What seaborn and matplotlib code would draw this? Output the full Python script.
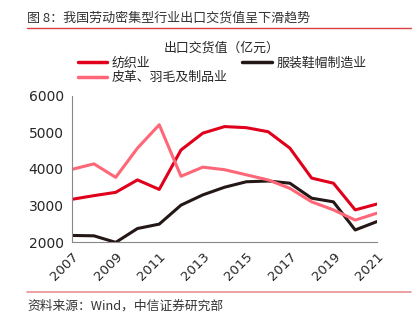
import matplotlib
matplotlib.use("Agg")
import matplotlib.pyplot as plt
import seaborn as sns
import pandas as pd
from matplotlib.lines import Line2D

years = list(range(2007, 2022))
textile = [3170, 3270, 3360, 3700, 3440, 4520, 4980, 5160, 5130, 5020, 4570, 3750, 3610, 2880, 3040]
clothing = [2180, 2170, 1990, 2370, 2490, 3010, 3290, 3500, 3650, 3670, 3610, 3200, 3100, 2330, 2560]
leather = [3990, 4140, 3770, 4570, 5210, 3800, 4050, 3980, 3840, 3700, 3470, 3100, 2880, 2600, 2790]
names = ["纺织业", "服装鞋帽制造业", "皮革、羽毛及制品业"]
colors = ["#E0001B", "#231815", "#FF6677"]
xticks = list(range(2007, 2022, 2))
yticks = [2000, 3000, 4000, 5000, 6000]

sns.set_style("white")
plt.rcParams['font.family'] = ['Noto Sans CJK SC', 'DejaVu Sans']

df = pd.DataFrame({
    "year": years * 3,
    "value": textile + clothing + leather,
    "series": [names[0]] * 15 + [names[1]] * 15 + [names[2]] * 15,
})

fig = plt.figure(figsize=(4.17, 3.24), dpi=100)
ax = fig.add_axes([0.173, 0.253, 0.731, 0.451])
sns.lineplot(data=df, x="year", y="value", hue="series", hue_order=names,
             palette=dict(zip(names, colors)), linewidth=2.2, ax=ax, legend=False)

ax.set_xlim(2007, 2021)
ax.set_ylim(2000, 6000)
ax.set_xticks(xticks)
ax.set_xticklabels([str(x) for x in xticks], rotation=45, ha="right",
                   rotation_mode="anchor", fontsize=9.5, family="DejaVu Sans")
ax.set_yticks(yticks)
ax.set_yticklabels([str(y) for y in yticks], fontsize=10, family="DejaVu Sans")
ax.set_xlabel("")
ax.set_ylabel("")
for s in ["top", "right"]:
    ax.spines[s].set_visible(False)
for s in ["left", "bottom"]:
    ax.spines[s].set_color("#888888")
    ax.spines[s].set_linewidth(0.8)
ax.tick_params(axis="both", direction="out", length=4, width=0.8, color="#888888", pad=2)

handles = [Line2D([0], [0], color=colors[0], lw=2.5),
           Line2D([0], [0], color=colors[2], lw=2.5),
           Line2D([0], [0], color=colors[1], lw=2.5)]
labels = [names[0], names[2], names[1]]
leg = fig.legend(handles, labels, ncol=2, loc="upper left", bbox_to_anchor=(0.186, 0.872),
                 frameon=False, fontsize=9.3, handlelength=2.3, handletextpad=0.35,
                 columnspacing=1.1, labelspacing=0.15, borderpad=0, borderaxespad=0,
                 title="出口交货值（亿元）", title_fontsize=9.3)

fig.text(0.065, 0.945, "图 8：我国劳动密集型行业出口交货值呈下滑趋势", fontsize=9.4, color="#333333",
         va="center", ha="left")
fig.add_artist(Line2D([0.065, 0.985], [0.913, 0.913], color="#D94040", lw=1.0,
                      transform=fig.transFigure))
fig.add_artist(Line2D([0.065, 0.985], [0.099, 0.099], color="#E89090", lw=1.2,
                      transform=fig.transFigure))
fig.text(0.065, 0.055, "资料来源：Wind，中信证券研究部", fontsize=9.2, color="#333333",
         va="center", ha="left")

fig.savefig("out.png", dpi=100)
